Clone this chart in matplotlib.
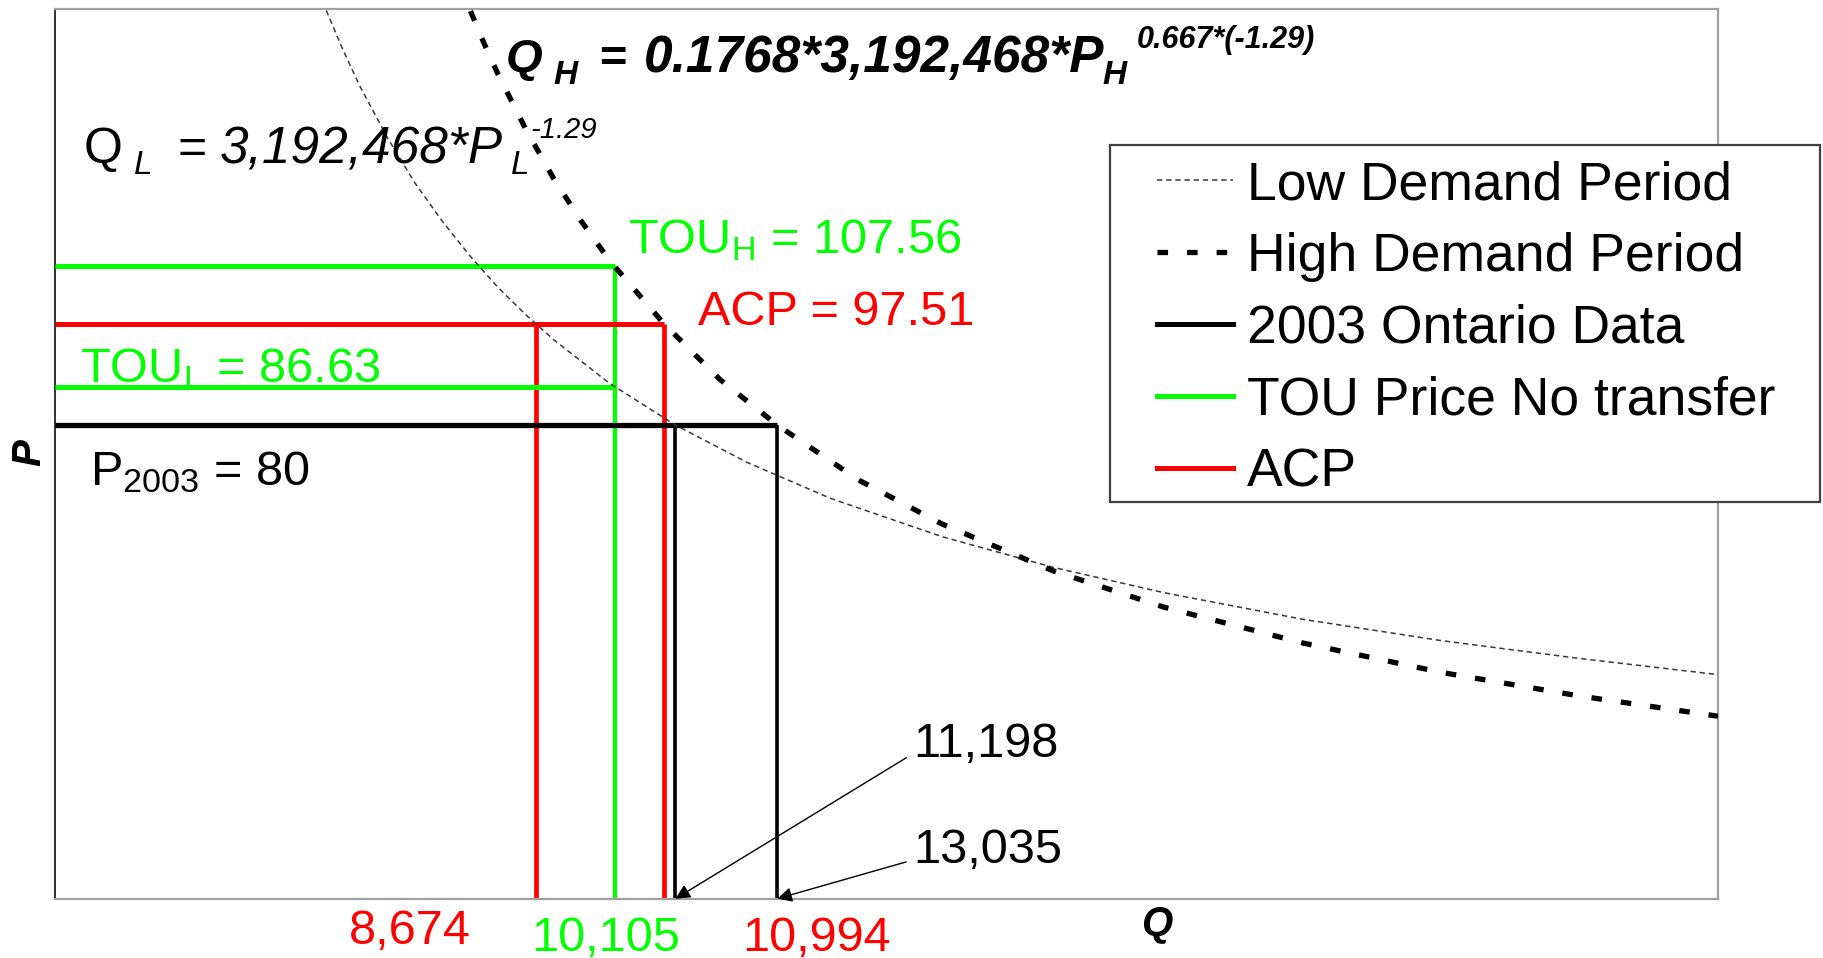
import matplotlib
matplotlib.use("Agg")
import matplotlib.pyplot as plt
from matplotlib.patches import Rectangle
from matplotlib.lines import Line2D

plt.rcParams['font.family'] = ['Liberation Sans', 'DejaVu Sans']
plt.rcParams['mathtext.default'] = 'regular'

# ---- data ----
low_Q = [4900, 5200, 5500, 6000, 6500, 7000, 7500, 8000, 8500, 9000, 10000,
         11198, 12500, 14000, 16000, 18000, 20000, 22500, 25000, 27500, 30000]
low_P = [151.8, 145.0, 138.8, 129.8, 121.9, 115.2, 109.2, 103.8, 99.1, 94.8, 87.3,
         80.0, 73.5, 67.3, 60.7, 55.4, 51.0, 46.4, 42.7, 39.6, 36.8]
high_Q = [7500, 7750, 8000, 8500, 9000, 9500, 10000, 10994, 12000, 13035,
          14500, 16000, 18000, 20000, 22500, 25000, 27500, 30000]
high_P = [151.7, 146.0, 140.7, 131.2, 122.7, 115.3, 108.6, 97.5, 87.9, 80.0,
          70.5, 62.9, 54.8, 48.5, 42.3, 37.2, 33.1, 29.6]

price_2003 = 80.0
price_tou_h = 107.56
price_tou_l = 86.63
price_acp = 97.51

q_acp_low = 8674
q_tou = 10105
q_acp_high = 10994
q_2003_low = 11198
q_2003_high = 13035

legend_labels = ["Low Demand Period", "High Demand Period", "2003 Ontario Data",
                 "TOU Price No transfer", "ACP"]

GREEN = '#00ff00'
RED = '#ff0000'

W, H = 1823, 958
fig = plt.figure(figsize=(W / 100, H / 100), dpi=100)
ax = fig.add_axes([54.6 / W, 1 - 898.7 / H, (1718 - 54.6) / W, (898.7 - 9.3) / H])
ax.set_xlim(0, 30000)
ax.set_ylim(-2, 152)
y0 = ax.get_ylim()[0]
x0 = ax.get_xlim()[0]
ax.set_xticks([])
ax.set_yticks([])
for side in ['top', 'right', 'bottom']:
    ax.spines[side].set_color('#a0a0a0')
    ax.spines[side].set_linewidth(1.6)
ax.spines['left'].set_color('#303030')
ax.spines['left'].set_linewidth(1.4)

# vertical segments
ax.plot([q_acp_low, q_acp_low], [y0, price_acp], color=RED, lw=3.4, solid_capstyle='butt', zorder=2)
ax.plot([q_tou, q_tou], [y0, price_tou_h], color=GREEN, lw=3.0, solid_capstyle='butt', zorder=2)
ax.plot([q_acp_high, q_acp_high], [y0, price_acp], color=RED, lw=3.4, solid_capstyle='butt', zorder=2)
ax.plot([q_2003_low, q_2003_low], [y0, price_2003], color='black', lw=2.6, solid_capstyle='butt', zorder=2)
ax.plot([q_2003_high, q_2003_high], [y0, price_2003], color='black', lw=2.6, solid_capstyle='butt', zorder=2)

# horizontal segments
ax.plot([x0, q_tou], [price_tou_h, price_tou_h], color=GREEN, lw=3.6, solid_capstyle='butt', zorder=3)
ax.plot([x0, q_acp_high], [price_acp, price_acp], color=RED, lw=3.6, solid_capstyle='butt', zorder=3)
ax.plot([x0, q_tou], [price_tou_l, price_tou_l], color=GREEN, lw=3.6, solid_capstyle='butt', zorder=3)
ax.plot([x0, q_2003_high], [price_2003, price_2003], color='black', lw=3.8, solid_capstyle='butt', zorder=3)

# demand curves
LOW_STYLE = dict(color='#383838', lw=1.1, linestyle=(0, (3.5, 2.5)))
HIGH_STYLE = dict(color='black', lw=3.8, linestyle=(0, (2.0, 3.6)))
ax.plot(low_Q, low_P, zorder=4, **LOW_STYLE)
ax.plot(high_Q, high_P, zorder=4, **HIGH_STYLE)


def ptext(x, y, s, size, **kw):
    """Text placed by pixel position of its left baseline (from top-left of the figure)."""
    return fig.text(x / W, 1 - y / H, s, fontsize=size, ha='left', va='baseline', zorder=5, **kw)


# high-demand equation (bold italic)
bi = dict(fontstyle='italic', fontweight='bold')
ptext(506, 72, "Q", 34, **bi)
ptext(553, 84, "H", 24, **bi)
ptext(598, 72, "=", 34, **bi)
ptext(644, 72, "0.1768*3,192,468*P", 37, **bi)
ptext(1102, 84, "H", 24, **bi)
ptext(1137, 48, "0.667*(-1.29)", 22, **bi)

# low-demand equation (italic)
ptext(84, 163, "Q", 36)
ptext(134, 174, "L", 24, fontstyle='italic')
ptext(177, 163, "=", 36)
ptext(220, 163, "3,192,468*P", 37, fontstyle='italic')
ptext(511, 174, "L", 24, fontstyle='italic')
ptext(531, 138, "-1.29", 21, fontstyle='italic')

ax.text(10340, 109.8, r"TOU$_H$ = 107.56", color=GREEN, fontsize=35, va='baseline', zorder=5)
ax.text(11596, 97.3, "ACP = 97.51", color=RED, fontsize=35, va='baseline', zorder=5)
ax.text(460, 87.4, r"TOU$_L$ = 86.63", color=GREEN, fontsize=35, va='baseline', zorder=5)
ax.text(630, 69.6, r"P$_{2003}$ = 80", color='black', fontsize=35, va='baseline', zorder=5)

ax.text(6409, -9.84, f"{q_acp_low:,}", color=RED, fontsize=35, ha='center', va='baseline', clip_on=False)
ax.text(9939, -11.06, f"{q_tou:,}", color=GREEN, fontsize=35, ha='center', va='baseline', clip_on=False)
ax.text(13751, -11.06, f"{q_acp_high:,}", color=RED, fontsize=35, ha='center', va='baseline', clip_on=False)

arrowprops = dict(arrowstyle='-|>', color='black', lw=1.0, mutation_scale=22,
                  shrinkA=3, shrinkB=0, relpos=(0, 0.3))
ax.annotate(f"{q_2003_low:,}", xy=(q_2003_low, y0), xytext=(15480, 22.5),
            fontsize=35, ha='left', va='baseline', arrowprops=arrowprops, annotation_clip=False)
ax.annotate(f"{q_2003_high:,}", xy=(q_2003_high, y0), xytext=(15480, 4.1),
            fontsize=35, ha='left', va='baseline', arrowprops=arrowprops, annotation_clip=False)

# axis labels
fig.text(29 / W, 1 - 453 / H, "P", rotation=90, fontsize=29, fontweight='bold',
         fontstyle='italic', ha='center', va='center')
fig.text(1157 / W, 1 - 924 / H, "Q", fontsize=29, fontweight='bold',
         fontstyle='italic', ha='center', va='center')

# legend
handles = [
    Line2D([], [], **LOW_STYLE),
    Line2D([], [], **HIGH_STYLE),
    Line2D([], [], color='black', lw=3.6),
    Line2D([], [], color=GREEN, lw=3.6),
    Line2D([], [], color=RED, lw=3.6),
]
fig.add_artist(Rectangle((1110 / W, 1 - 502 / H), (1819.5 - 1110) / W, (502 - 145) / H,
                         transform=fig.transFigure, facecolor='white', edgecolor='#404040',
                         lw=1.6, zorder=4))
leg = fig.legend(handles, legend_labels, loc='upper left',
                 bbox_to_anchor=(1157 / W, 1 - 160 / H), bbox_transform=fig.transFigure,
                 borderpad=0, borderaxespad=0, handlelength=1.42, handletextpad=0.26,
                 labelspacing=0.41, fontsize=38.5, frameon=False)
leg.set_zorder(6)

fig.savefig('out.png', dpi=100)
